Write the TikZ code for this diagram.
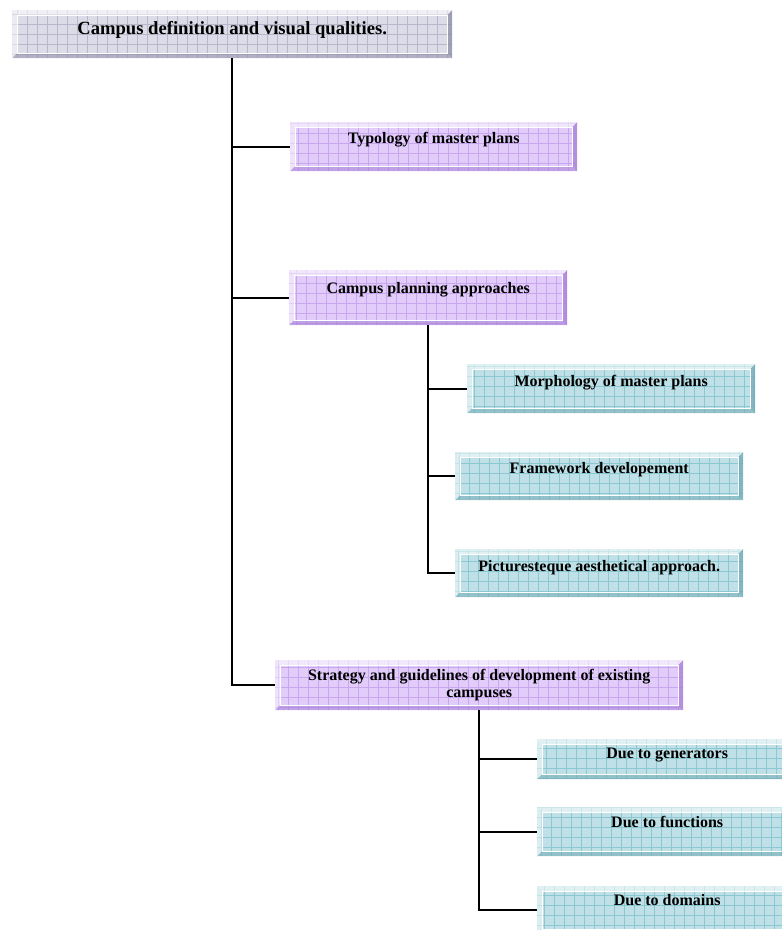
\documentclass[tikz,border=0pt]{standalone}
\usepackage{fontspec}
\setmainfont{Liberation Serif}
\begin{document}
\begin{tikzpicture}[x=1pt,y=-1pt,
  conn/.style={draw=black, line width=1.8pt},
  bev/.style n args={3}{fill=#1, inner sep=0pt, anchor=north west, font=\bfseries\fontsize{16}{18}\selectfont,
    path picture={
      \coordinate (SW) at (path picture bounding box.south west);
      \coordinate (NE) at (path picture bounding box.north east);
      \coordinate (NW) at (path picture bounding box.north west);
      \coordinate (SE) at (path picture bounding box.south east);
      \draw[#2, line width=.5pt] (SW) grid[step=10pt] (NE);
      \fill[white, opacity=.55] (NW) -- (NE) -- ([shift={(-5pt,-5pt)}]NE) -- ([shift={(5pt,-5pt)}]NW) -- cycle;
      \fill[white, opacity=.45] (NW) -- ([shift={(5pt,-5pt)}]NW) -- ([shift={(5pt,5pt)}]SW) -- (SW) -- cycle;
      \fill[#3, opacity=.55] (SW) -- ([shift={(5pt,5pt)}]SW) -- ([shift={(-5pt,5pt)}]SE) -- (SE) -- cycle;
      \fill[#3, opacity=.75] (SE) -- ([shift={(-5pt,5pt)}]SE) -- ([shift={(-5pt,-5pt)}]NE) -- (NE) -- cycle;
      \draw[white, line width=1.2pt] ([shift={(5pt,5pt)}]SW) rectangle ([shift={(-5pt,-5pt)}]NE);
    }},
  grayb/.style={bev={graybox}{graygrid}{graydark}},
  purb/.style={bev={purbox}{purgrid}{purdark}},
  tealb/.style={bev={tealbox}{tealgrid}{tealdark}},
  sz/.style n args={3}{minimum width=#1, text height=#3, text depth=#2-#3}
]
\definecolor{graybox}{HTML}{DCDCE8}
\definecolor{graygrid}{HTML}{B8B8CC}
\definecolor{graydark}{HTML}{8E8EA6}
\definecolor{purbox}{HTML}{E2CCFA}
\definecolor{purgrid}{HTML}{C9A6F0}
\definecolor{purdark}{HTML}{A57ED6}
\definecolor{tealbox}{HTML}{BEE0E6}
\definecolor{tealgrid}{HTML}{8CC8D2}
\definecolor{tealdark}{HTML}{6FA9B4}
\useasboundingbox[fill=white] (0,0) rectangle (782,930);

\node[grayb, sz={440}{48}{24}, font=\bfseries\fontsize{18.6}{21}\selectfont] (top) at (12,10) {Campus definition and visual qualities.};
\node[purb, sz={287}{49}{21}] (typ) at (290,122) {Typology of master plans};
\node[purb, sz={278}{55}{23}] (cpa) at (289,270) {Campus planning approaches};
\node[tealb, sz={288}{49}{22}] (mor) at (467,364) {Morphology of master plans};
\node[tealb, sz={288}{48}{21}] (fw) at (455,452) {Framework developement};
\node[tealb, sz={288}{48}{22}] (pic) at (455,549) {Picturesteque aesthetical approach.};
\node[purb, minimum width=408pt, minimum height=50pt, align=center,
  font=\bfseries\fontsize{16}{17}\selectfont] (str) at (275,660) {Strategy and guidelines of development of existing\\campuses};
\node[tealb, sz={260}{40}{19}] (gen) at (537,739) {Due to generators};
\node[tealb, sz={260}{49}{20}] (fun) at (537,807) {Due to functions};
\node[tealb, sz={260}{48}{19}] (dom) at (537,886) {Due to domains};

\draw[conn] (top.south) |- (typ.west);
\draw[conn] (top.south) |- (cpa.west);
\draw[conn] (top.south) |- (str.west);
\draw[conn] (cpa.south) |- (mor.west);
\draw[conn] (cpa.south) |- (fw.west);
\draw[conn] (cpa.south) |- (pic.west);
\draw[conn] (str.south) |- (gen.west);
\draw[conn] (str.south) |- (fun.west);
\draw[conn] (str.south) |- (dom.west);
\end{tikzpicture}
\end{document}
